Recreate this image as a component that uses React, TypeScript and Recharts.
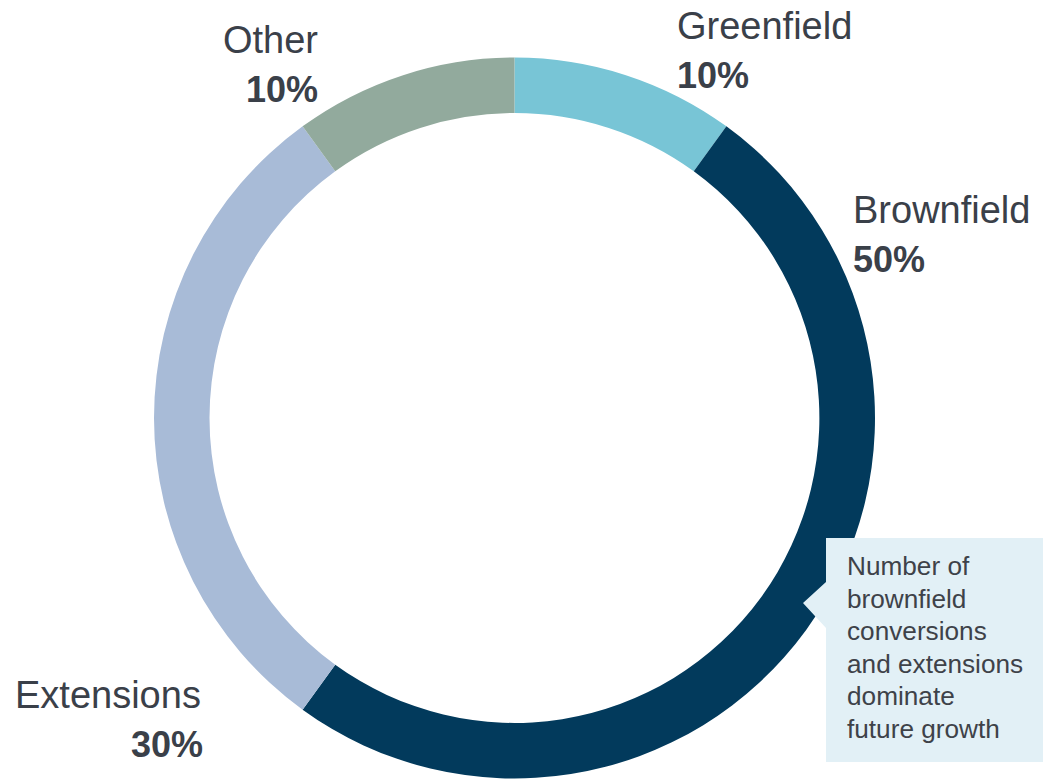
import React from "react";
import { PieChart, Pie, Cell } from "recharts";

const categories = ["Greenfield", "Brownfield", "Extensions", "Other"];
const shares = [10, 50, 30, 10];
const colors = ["#78C5D6", "#023A5C", "#A8BBD7", "#92AA9D"];
const calloutLines = [
  "Number of",
  "brownfield",
  "conversions",
  "and extensions",
  "dominate",
  "future growth",
];

const data = categories.map((name, i) => ({ name, value: shares[i] }));

const labelLayout: Record<string, { x: number; y: number; anchor: "start" | "end"; pctX: number; pctAnchor: "start" | "end" }> = {
  Greenfield: { x: 677, y: 39, anchor: "start", pctX: 677, pctAnchor: "start" },
  Brownfield: { x: 853, y: 223, anchor: "start", pctX: 853, pctAnchor: "start" },
  Other: { x: 318, y: 53, anchor: "end", pctX: 318, pctAnchor: "end" },
  Extensions: { x: 15, y: 708, anchor: "start", pctX: 203, pctAnchor: "end" },
};

const FONT = "'Liberation Sans', Arial, sans-serif";
const TEXT = "#3A4049";

const renderLabel = (props: any) => {
  const name = props.name ?? props.payload?.name;
  const lay = labelLayout[name];
  if (!lay) return null;
  const pct = Math.round((props.percent ?? 0) * 100);
  return (
    <g key={name}>
      <text x={lay.x} y={lay.y} textAnchor={lay.anchor} fontFamily={FONT} fontSize={38} fill={TEXT}>
        {name}
      </text>
      <text x={lay.pctX} y={lay.y + 49} textAnchor={lay.pctAnchor} fontFamily={FONT} fontSize={36} fontWeight="bold" fill={TEXT}>
        {pct}%
      </text>
    </g>
  );
};

export default function App() {
  return (
    <div style={{ position: "absolute", left: 0, top: 0, width: 1043, height: 780, background: "#fff", overflow: "hidden" }}>
      <PieChart width={1043} height={780} margin={{ top: 0, right: 0, bottom: 0, left: 0 }}>
        <Pie
          data={data}
          dataKey="value"
          nameKey="name"
          cx={514.5}
          cy={418}
          innerRadius={305}
          outerRadius={360.5}
          startAngle={90}
          endAngle={-270}
          stroke="none"
          label={renderLabel}
          labelLine={false}
          isAnimationActive={false}
        >
          {data.map((d, i) => (
            <Cell key={d.name} fill={colors[i]} />
          ))}
        </Pie>
      </PieChart>
      <svg width={1043} height={780} style={{ position: "absolute", left: 0, top: 0, pointerEvents: "none" }}>
        <polygon points="803,603 826,582 826,538 1043,538 1043,762 826,762 826,628" fill="#E2F0F6" />
        {calloutLines.map((line, i) => (
          <text key={i} x={847} y={575 + i * 32.6} fontFamily={FONT} fontSize={26.2} fill="#3E4249">
            {line}
          </text>
        ))}
      </svg>
    </div>
  );
}
